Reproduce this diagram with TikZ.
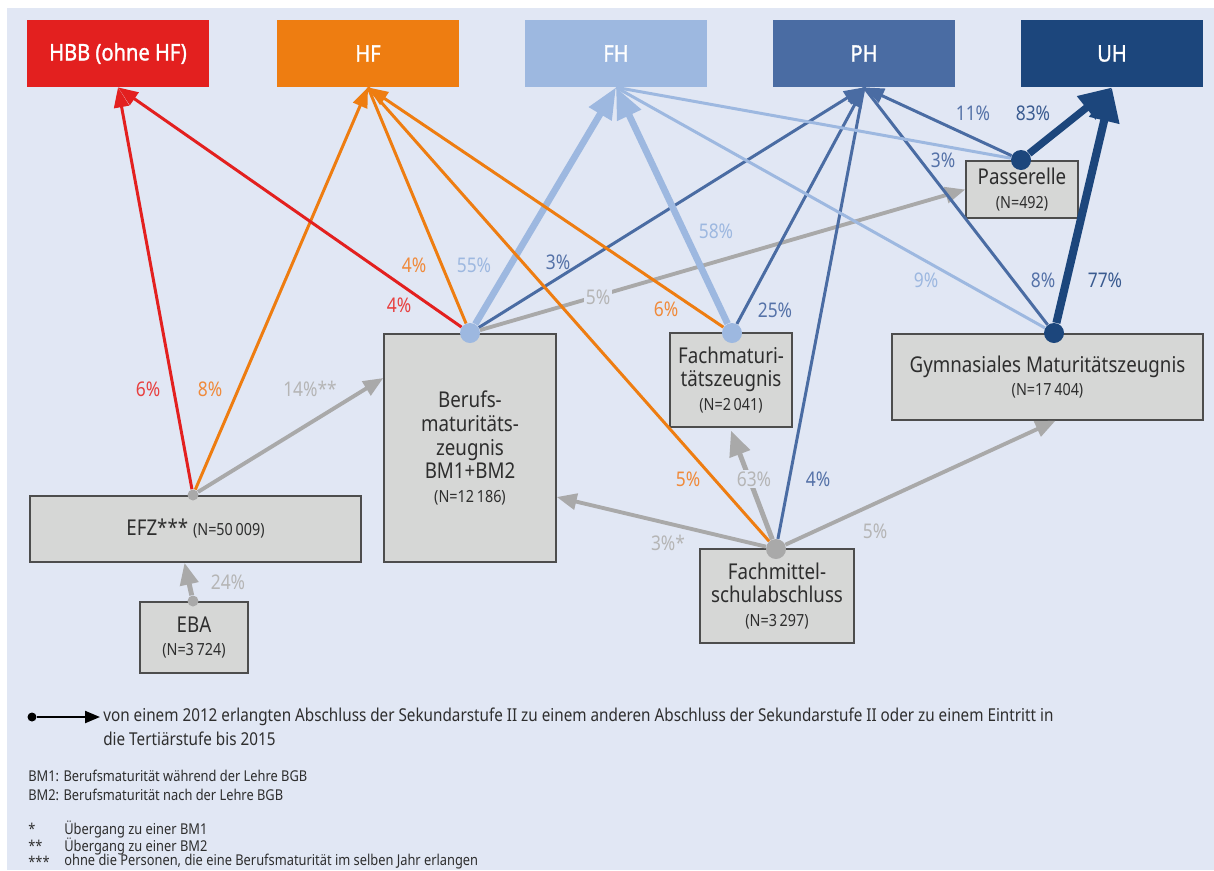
\documentclass[tikz,border=0pt]{standalone}
\usepackage{fontspec}
\setmainfont{Noto Sans}[FakeStretch=0.86]
\newfontfamily\headfont{Noto Sans}[FakeStretch=0.88, FakeBold=1.3]
\usetikzlibrary{arrows.meta,calc}

\definecolor{bgcol}{HTML}{E1E7F4}
\definecolor{hbbred}{HTML}{E3201F}
\definecolor{hforange}{HTML}{EE7D11}
\definecolor{fhblue}{HTML}{9DB8E0}
\definecolor{phblue}{HTML}{4A6CA3}
\definecolor{uhblue}{HTML}{1C467C}
\definecolor{flowgrey}{HTML}{A9A9A9}
\definecolor{boxfill}{HTML}{D6D7D6}
\definecolor{boxline}{HTML}{4D4D4D}
\definecolor{textdark}{HTML}{2E2E2E}
\definecolor{labred}{HTML}{E8403F}
\definecolor{laborange}{HTML}{F08A3A}
\definecolor{labgrey}{HTML}{B5B5B5}
\definecolor{labph}{HTML}{5572A8}
\definecolor{labuh}{HTML}{3A5B90}

\tikzset{
  topbox/.style={fill=#1, text=white, inner sep=0pt, minimum width=3.64cm,
    minimum height=1.34cm, font=\headfont\fontsize{13}{15}\selectfont},
  levelbox/.style={draw=boxline, line width=0.8pt, fill=boxfill, text=textdark,
    inner sep=0pt, align=center, font=\fontsize{12.4}{13.6}\selectfont},
  dot/.style={circle, fill=#1, inner sep=0pt, minimum size=0.4cm},
  smalldot/.style={circle, fill=#1, inner sep=0pt, minimum size=0.22cm},
  flow/.style={draw=#1, line width=1.7pt, -{Triangle[length=0.4cm,width=0.3cm]}},
  plainflow/.style={draw=#1, line width=1.7pt},
  bigflow/.style={draw=#1, line width=3.8pt, -{Triangle[length=0.62cm,width=0.5cm]}},
  greyflow/.style={draw=flowgrey, line width=2.2pt, -{Triangle[length=0.4cm,width=0.32cm]}},
  pct/.style={text=#1, font=\fontsize{11.5}{13}\selectfont, inner sep=1pt},
  legtext/.style={text=textdark, inner sep=0pt, font=\fontsize{10.1}{11}\selectfont},
  notetext/.style={text=textdark, inner sep=0pt, font=\fontsize{8.5}{10}\selectfont},
}
\newcommand{\nsmall}[1]{{\fontsize{9.5}{11}\selectfont #1}}

\begin{document}
\begin{tikzpicture}[x=0.02cm, y=-0.02cm]
  \useasboundingbox (0,0) rectangle (1214,870);
  \fill[bgcol] (7,8) rectangle (1214,870);

  % Tertiaerstufe
  \node[topbox=hbbred] (hbb) at (118,53.5) {HBB (ohne HF)};
  \node[topbox=hforange] (hf) at (368,53.5) {HF};
  \node[topbox=fhblue] (fh) at (616,53.5) {FH};
  \node[topbox=phblue] (ph) at (864,53.5) {PH};
  \node[topbox=uhblue] (uh) at (1112,53.5) {UH};

  % Abschluesse Sekundarstufe II
  \node[levelbox, minimum width=6.62cm, minimum height=1.32cm] (efz) at (195.5,529)
    {EFZ*** \nsmall{(N=50\,009)}};
  \node[levelbox, minimum width=3.44cm, minimum height=4.56cm] (bm) at (470,448)
    {Berufs-\\maturitäts-\\zeugnis\\BM1+BM2\\\nsmall{(N=12\,186)}};
  \node[levelbox, minimum width=2.16cm, minimum height=1.42cm] (eba) at (194,637.5)
    {EBA\\\nsmall{(N=3\,724)}};
  \node[levelbox, minimum width=2.44cm, minimum height=1.88cm] (fmat) at (731,380)
    {Fachmaturi-\\tätszeugnis\\\nsmall{(N=2\,041)}};
  \node[levelbox, minimum width=6.22cm, minimum height=1.72cm] (gym) at (1047.5,377)
    {Gymnasiales Maturitätszeugnis\\\nsmall{(N=17\,404)}};
  \node[levelbox, minimum width=3.08cm, minimum height=1.88cm] (fms) at (777,596)
    {Fachmittel-\\schulabschluss\\\nsmall{(N=3\,297)}};
  \node[levelbox, minimum width=2.24cm, minimum height=1.14cm] (pass) at (1022,189.5)
    {Passerelle\\\nsmall{(N=492)}};

  % Ausgangspunkte
  \node[smalldot=flowgrey] (efzdot) at (193,495) {};
  \node[smalldot=flowgrey] (ebadot) at (193,601) {};
  \node[dot=fhblue] (bmdot) at (470,333) {};
  \node[dot=fhblue] (fmatdot) at (732,333) {};
  \node[dot=uhblue] (gymdot) at (1054,333) {};
  \node[dot=flowgrey] (fmsdot) at (776,549) {};
  \node[dot=uhblue] (passdot) at (1021,160) {};

  % Uebergaenge EFZ / EBA
  \draw[flow=hbbred] (efzdot) -- (hbb.south);
  \draw[flow=hforange] (efzdot) -- (hf.south);
  \draw[greyflow] (efzdot) -- ([yshift=1.4cm]bm.west);
  \draw[greyflow, line width=2.8pt, -{Triangle[length=0.44cm,width=0.36cm]}]
    (ebadot) -- ([xshift=-0.22cm]efz.south);

  % Uebergaenge BM
  \draw[flow=hbbred] (bmdot) -- (hbb.south);
  \draw[plainflow=hforange] (bmdot) -- (hf.south);
  \draw[bigflow=fhblue] (bmdot) -- (fh.south);
  \draw[flow=phblue] (bmdot) -- (ph.south);
  \draw[greyflow] (bmdot) -- (pass.west);

  % Uebergaenge Fachmaturitaet
  \draw[flow=hforange] (fmatdot) -- (hf.south);
  \draw[bigflow=fhblue] (fmatdot) -- (fh.south);
  \draw[flow=phblue] (fmatdot) -- (ph.south);

  % Uebergaenge Fachmittelschule
  \draw[plainflow=hforange] (fmsdot) -- (hf.south);
  \draw[plainflow=phblue] (fmsdot) -- (ph.south);
  \draw[greyflow, line width=2.8pt, -{Triangle[length=0.5cm,width=0.42cm]}]
    (fmsdot) -- ([yshift=-0.06cm]fmat.south);
  \draw[greyflow] (fmsdot) -- ([yshift=-0.98cm]bm.east);
  \draw[greyflow] (fmsdot) -- ([xshift=0.16cm]gym.south);

  % Uebergaenge gymnasiale Maturitaet
  \draw[plainflow=fhblue] (gymdot) -- (fh.south);
  \draw[plainflow=phblue] (gymdot) -- (ph.south);
  \draw[bigflow=uhblue, line width=4.6pt, -{Triangle[length=0.68cm,width=0.58cm]}]
    (gymdot) -- (uh.south);

  % Uebergaenge Passerelle
  \draw[plainflow=fhblue] (passdot) -- (fh.south);
  \draw[flow=phblue] (passdot) -- (ph.south);
  \draw[bigflow=uhblue, line width=4.2pt, -{Triangle[length=0.66cm,width=0.56cm]}]
    (passdot) -- (uh.south);

  % Anteile
  \node[pct=labred] (p-efz-hbb) at (148,389) {6\%};
  \node[pct=laborange] (p-efz-hf) at (210,389) {8\%};
  \node[pct=labgrey] (p-efz-bm) at (310,389) {14\%**};
  \node[pct=labgrey] (p-eba-efz) at (228,582) {24\%};
  \node[pct=labred] (p-bm-hbb) at (399,305) {4\%};
  \node[pct=laborange] (p-bm-hf) at (414,265) {4\%};
  \node[pct=fhblue] (p-bm-fh) at (474,265) {55\%};
  \node[pct=labph] (p-bm-ph) at (558,262) {3\%};
  \node[pct=labgrey, fill=bgcol] (p-bm-pass) at (598,297) {5\%};
  \node[pct=laborange] (p-fmat-hf) at (666,309) {6\%};
  \node[pct=fhblue] (p-fmat-fh) at (716,231) {58\%};
  \node[pct=labph] (p-fmat-ph) at (775,310) {25\%};
  \node[pct=laborange] (p-fms-hf) at (688,479) {5\%};
  \node[pct=labgrey, fill=bgcol] (p-fms-fmat) at (754,479) {63\%};
  \node[pct=labph] (p-fms-ph) at (818,479) {4\%};
  \node[pct=labgrey] (p-fms-bm) at (668,543) {3\%*};
  \node[pct=labgrey] (p-fms-gym) at (875,531) {5\%};
  \node[pct=fhblue] (p-gym-fh) at (926,280) {9\%};
  \node[pct=labph] (p-gym-ph) at (1043,280) {8\%};
  \node[pct=labuh] (p-gym-uh) at (1105,280) {77\%};
  \node[pct=labph] (p-pass-fh) at (943,160) {3\%};
  \node[pct=labph] (p-pass-ph) at (973,113) {11\%};
  \node[pct=labuh] (p-pass-uh) at (1033,113) {83\%};

  % Legende
  \node[circle, fill=black, inner sep=0pt, minimum size=0.18cm] (legdot) at (32,717) {};
  \coordinate (legtip) at (100,717);
  \draw[line width=1.2pt, -{Triangle[length=0.3cm,width=0.24cm]}] (legdot) -- (legtip);
  \node[legtext, anchor=west] (leg1) at (103,717) {von einem 2012 erlangten Abschluss der Sekundarstufe II zu einem anderen Abschluss der Sekundarstufe II oder zu einem Eintritt in};
  \node[legtext, anchor=west] (leg2) at (103,739) {die Tertiärstufe bis 2015};
  \node[notetext, anchor=west] (bm1) at (28,776) {BM1: Berufsmaturität während der Lehre BGB};
  \node[notetext, anchor=west] (bm2) at (28,795) {BM2: Berufsmaturität nach der Lehre BGB};
  \node[notetext, anchor=west] (star1) at (28,829) {*};
  \node[notetext, anchor=west] (star2) at (28,846) {**};
  \node[notetext, anchor=west] (star3) at (28,862) {***};
  \node[notetext, anchor=west] (note1) at (64,829) {Übergang zu einer BM1};
  \node[notetext, anchor=west] (note2) at (64,846) {Übergang zu einer BM2};
  \node[notetext, anchor=west] (note3) at (64,862) {ohne die Personen, die eine Berufsmaturität im selben Jahr erlangen};
\end{tikzpicture}
\end{document}
